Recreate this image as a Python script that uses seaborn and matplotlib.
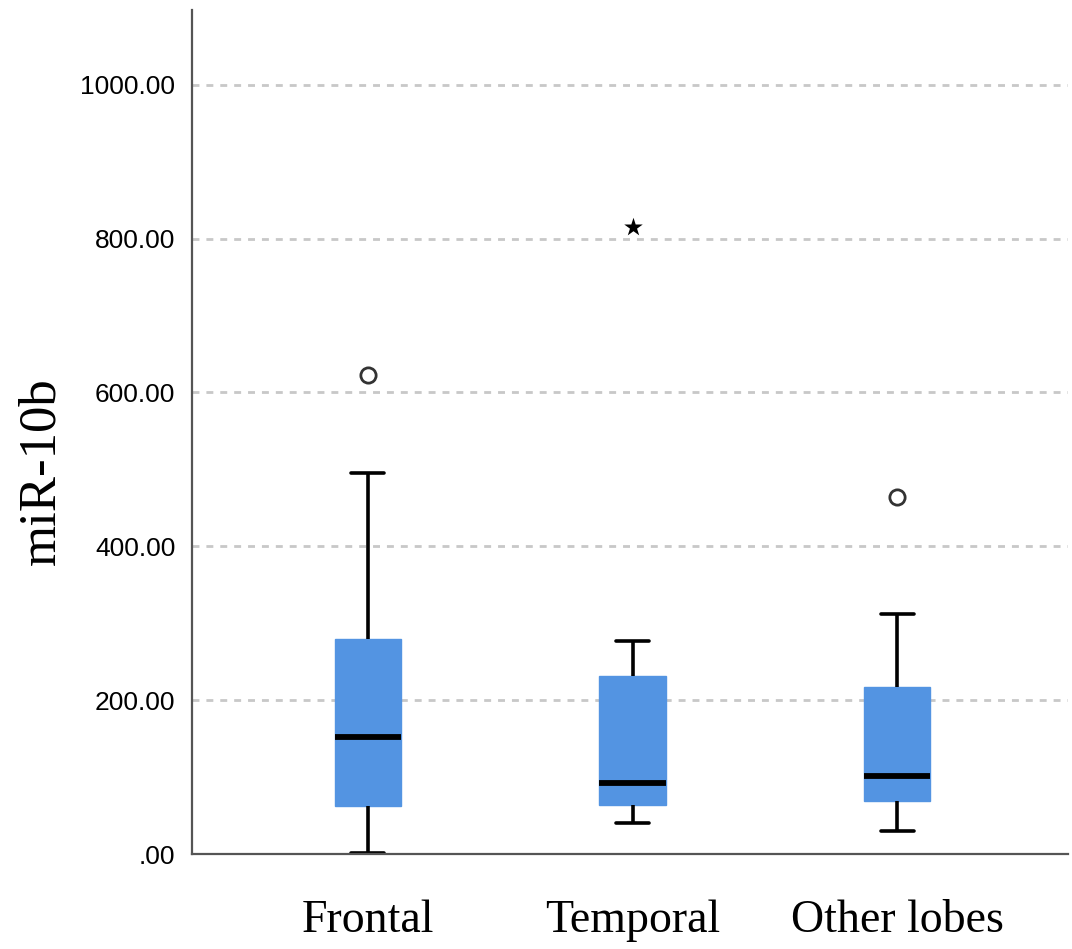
import numpy as np
import pandas as pd
import seaborn as sns
import matplotlib.pyplot as plt

sns.set_style("white")
plt.rcParams["text.color"] = "black"
plt.rcParams["xtick.color"] = "black"
plt.rcParams["ytick.color"] = "black"
plt.rcParams["axes.labelcolor"] = "black"

# values (sorted per group)
lobes = ["Frontal", "Temporal", "Other lobes"]
frontal = [1, 35, 62, 110, 152, 215, 280, 495, 622]
temporal = [40, 52, 64, 80, 92, 160, 231, 277, 815]
other = [30, 50, 69, 88, 101, 170, 217, 312, 464]
yticks = [0, 200, 400, 600, 800, 1000]
ytick_labels = [".00", "200.00", "400.00", "600.00", "800.00", "1000.00"]

box_color = "#5394E2"

d = pd.DataFrame({
    "lobe": np.repeat(lobes, [len(frontal), len(temporal), len(other)]),
    "value": frontal + temporal + other,
})

# SPSS style outliers: circle beyond 1.5 IQR, star beyond 3 IQR
mild, extreme = [], []
for lobe, grp in d.groupby("lobe", sort=False):
    q1, q3 = np.percentile(grp["value"], [25, 75])
    iqr = q3 - q1
    for v in grp["value"]:
        if v > q3 + 3 * iqr or v < q1 - 3 * iqr:
            extreme.append((lobe, v))
        elif v > q3 + 1.5 * iqr or v < q1 - 1.5 * iqr:
            mild.append((lobe, v))
mild = pd.DataFrame(mild, columns=["lobe", "value"])
extreme = pd.DataFrame(extreme, columns=["lobe", "value"])

fig = plt.figure(figsize=(10.72, 9.49), dpi=100)
ax = fig.add_axes([192 / 1072, 95 / 949, 876 / 1072, 844 / 949])

ax.set_axisbelow(True)
ax.yaxis.grid(True, color="#C8C8C8", linestyle=(0, (2.5, 2.5)), linewidth=2)

sns.boxplot(data=d, x="lobe", y="value", order=lobes, color=box_color,
            width=0.25, whis=1.5, showfliers=False, saturation=1,
            linewidth=2.6,
            boxprops={"edgecolor": box_color, "linewidth": 1},
            medianprops={"color": "black", "linewidth": 4.2},
            whiskerprops={"color": "black", "linewidth": 2.6},
            capprops={"color": "black", "linewidth": 2.6},
            ax=ax)

sns.stripplot(data=mild, x="lobe", y="value", order=lobes, jitter=False,
              marker="o", size=11, color="white", edgecolor="#333333",
              linewidth=2, ax=ax)
sns.stripplot(data=extreme, x="lobe", y="value", order=lobes, jitter=False,
              marker="*", size=14, color="black", ax=ax)

ax.set_xlim(-0.665, 2.646)
ax.set_ylim(0, 1097)
ax.set_yticks(yticks)
ax.set_yticklabels(ytick_labels, fontsize=19, family="Liberation Sans")
ax.set_xticks(range(len(lobes)))
ax.set_xticklabels(lobes, fontsize=33, family="Liberation Serif")
ax.tick_params(axis="x", length=0, pad=33)
ax.tick_params(axis="y", direction="in", length=4, width=1, color="#777777", pad=12)

ax.set_xlabel("")
ax.set_ylabel("miR-10b", fontsize=38, family="Liberation Serif")
ax.yaxis.set_label_coords(-0.145, 0.454)

for s in ["top", "right"]:
    ax.spines[s].set_visible(False)
for s in ["left", "bottom"]:
    ax.spines[s].set_color("#555555")
    ax.spines[s].set_linewidth(1.6)

plt.savefig("out.png", dpi=100)
